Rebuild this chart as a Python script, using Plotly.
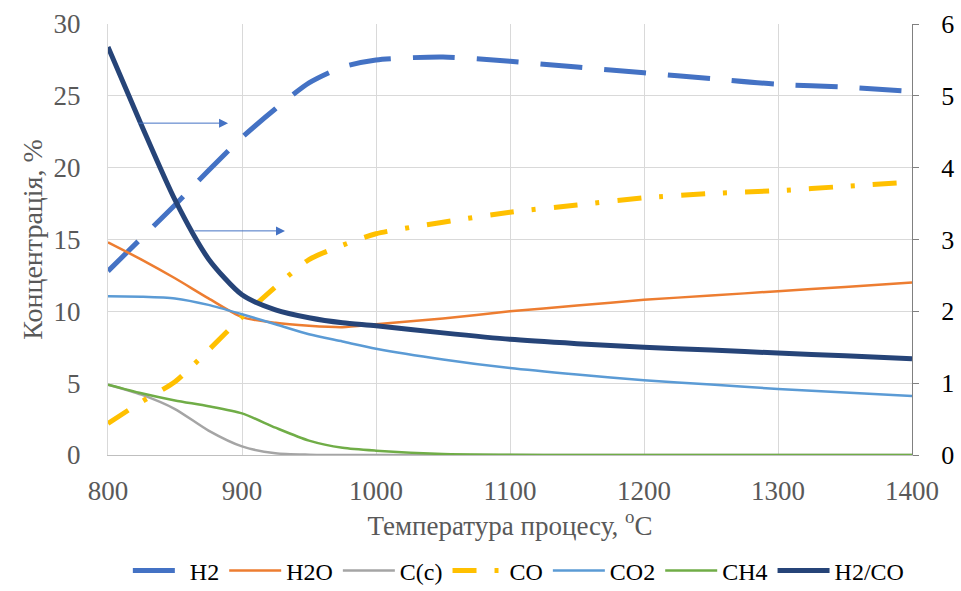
import plotly.graph_objects as go

T = [800, 825, 850, 875, 900, 925, 950, 975, 1000, 1050, 1100, 1150, 1200, 1250, 1300, 1350, 1400]

H2 = [12.8, 15.1, 17.4, 19.8, 22.1, 24.1, 25.9, 27.0, 27.5, 27.7, 27.4, 27.0, 26.6, 26.2, 25.8, 25.6, 25.3]
H2O = [14.8, 13.6, 12.3, 10.9, 9.6, 9.2, 9.0, 8.9, 9.1, 9.5, 10.0, 10.4, 10.8, 11.1, 11.4, 11.7, 12.0]
Cc = [4.9, 4.2, 3.2, 1.7, 0.6, 0.12, 0.02, 0.0, 0.0, 0.0, 0.0, 0.0, 0.0, 0.0, 0.0, 0.0, 0.0]
CO = [2.2, 3.7, 5.1, 7.3, 9.6, 11.7, 13.6, 14.6, 15.4, 16.2, 16.9, 17.4, 17.9, 18.2, 18.4, 18.7, 19.0]
CO2 = [11.05, 11.02, 10.9, 10.45, 9.8, 9.1, 8.4, 7.9, 7.4, 6.65, 6.05, 5.6, 5.2, 4.9, 4.6, 4.35, 4.1]
CH4 = [4.9, 4.3, 3.8, 3.4, 2.9, 1.9, 1.0, 0.5, 0.3, 0.07, 0.02, 0.0, 0.0, 0.0, 0.0, 0.0, 0.0]
H2_CO = [5.68, 4.59, 3.55, 2.73, 2.23, 2.02, 1.91, 1.84, 1.80, 1.70, 1.61, 1.55, 1.50, 1.46, 1.42, 1.38, 1.34]

x_ticks = [800, 900, 1000, 1100, 1200, 1300, 1400]
FONT = "Times New Roman"

fig = go.Figure()

def add(name, y, color, width, dash="solid", yaxis="y"):
    fig.add_trace(go.Scatter(
        x=T, y=y, name=name, mode="lines", yaxis=yaxis,
        line=dict(color=color, width=width, dash=dash, shape="spline", smoothing=0.7),
    ))

add("H2", H2, "#4472C4", 5, dash="42px,22px")
add("H2O", H2O, "#ED7D31", 2.5)
add("C(c)", Cc, "#A5A5A5", 2.5)
add("CO", CO, "#FFC000", 5, dash="24px,18px,4px,18px")
add("CO2", CO2, "#5B9BD5", 2.5)
add("CH4", CH4, "#70AD47", 2.5)
add("H2/CO", H2_CO, "#264478", 5, yaxis="y2")

# arrows indicating H2 and H2/CO series
for (x0, x1, yv) in [(821.6, 889.6, 23.1), (863.4, 932.1, 15.6)]:
    fig.add_annotation(x=x1, y=yv, ax=x0, ay=yv, xref="x", yref="y", axref="x", ayref="y",
                       showarrow=True, text="", arrowhead=2, arrowsize=1.8, arrowwidth=1,
                       arrowcolor="#4472C4")

fig.update_layout(
    width=961, height=591,
    margin=dict(l=108, r=49, t=24, b=136),
    paper_bgcolor="white", plot_bgcolor="white",
    font=dict(family=FONT, size=24, color="#595959"),
    showlegend=True,
    legend=dict(orientation="h", x=0.511, xanchor="center", xref="paper",
                y=0.034, yanchor="middle", yref="container",
                font=dict(family=FONT, size=24, color="black"),
                tracegroupgap=0, itemwidth=52),
    xaxis=dict(range=[800, 1400], tickvals=x_ticks, showgrid=True, gridcolor="#D9D9D9",
               gridwidth=1, showline=True, linecolor="#BFBFBF", linewidth=1, zeroline=False,
               automargin=False,
               tickfont=dict(family=FONT, size=27, color="#595959"), ticks="", ticklabelstandoff=12,
               title=dict(text="Температура процесу, <sup>o</sup>C", standoff=3,
                          font=dict(family=FONT, size=27, color="#595959"))),
    yaxis=dict(range=[0, 30], dtick=5, showgrid=True, gridcolor="#D9D9D9", gridwidth=1,
               showline=True, linecolor="#D9D9D9", zeroline=False, ticks="", automargin=False,
               tickfont=dict(family=FONT, size=27, color="#595959"), ticklabelstandoff=21,
               title=dict(text="Концентрація, %", standoff=2,
                          font=dict(family=FONT, size=28, color="#595959"))),
    yaxis2=dict(range=[0, 6], dtick=1, overlaying="y", side="right", showgrid=False,
                showline=True, linecolor="#808080", linewidth=1, zeroline=False, automargin=False,
                ticks="outside", ticklen=6, tickcolor="#808080", ticklabelstandoff=17,
                tickfont=dict(family=FONT, size=26, color="black")),
)

fig.write_html("out.html", config={"displayModeBar": False},
               post_script="document.body.style.margin='0';document.body.style.overflow='hidden';")
